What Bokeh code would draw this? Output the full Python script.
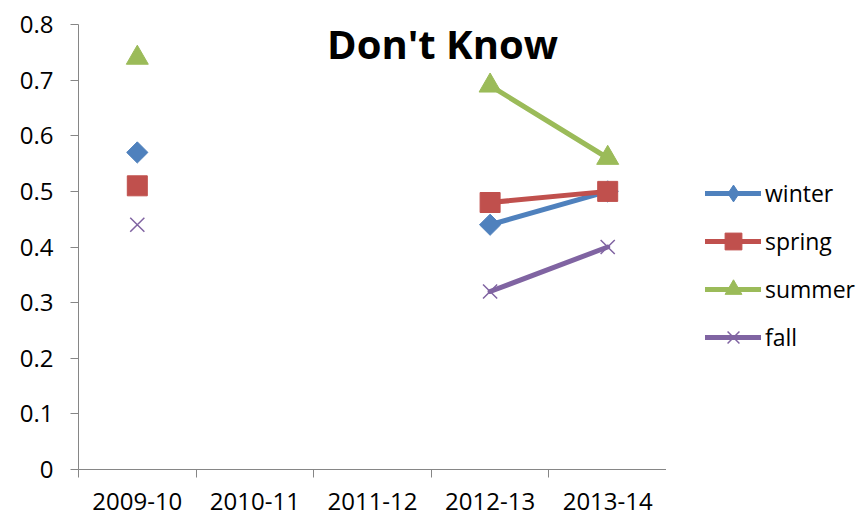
import math
from bokeh.plotting import figure
from bokeh.layouts import row
from bokeh.models import (ColumnDataSource, Range1d, FixedTicker, Legend, LegendItem,
                          Label, NumeralTickFormatter)
from bokeh.embed import file_html
from bokeh.resources import INLINE

categories = ["2009-10", "2010-11", "2011-12", "2012-13", "2013-14"]
nan = float("nan")
winter = [0.57, nan, nan, 0.44, 0.50]
spring = [0.51, nan, nan, 0.48, 0.50]
summer = [0.74, nan, nan, 0.69, 0.56]
fall = [0.44, nan, nan, 0.32, 0.40]
y_ticks = [0, 0.1, 0.2, 0.3, 0.4, 0.5, 0.6, 0.7, 0.8]
title_text = "Don't Know"

FONT = "Open Sans"
AXIS_COLOR = "#868686"

xs = [i + 0.5 for i in range(len(categories))]
src = ColumnDataSource(dict(x=xs, winter=winter, spring=spring, summer=summer, fall=fall))

p = figure(width=666, height=524, output_backend="svg", toolbar_location=None,
           x_range=Range1d(0, len(categories)), y_range=Range1d(0, 0.8),
           min_border_left=78, min_border_right=0, min_border_top=24, min_border_bottom=55)
p.background_fill_color = "white"
p.border_fill_color = "white"
p.outline_line_color = None
p.xgrid.visible = False
p.ygrid.visible = False

# x axis
p.xaxis.ticker = FixedTicker(ticks=xs, minor_ticks=list(range(len(categories) + 1)))
p.xaxis.major_label_overrides = {x: c for x, c in zip(xs, categories)}
p.xaxis.major_tick_line_color = None
p.xaxis.major_tick_out = 0
p.xaxis.major_tick_in = 0
p.xaxis.minor_tick_line_color = AXIS_COLOR
p.xaxis.minor_tick_out = 8
p.xaxis.minor_tick_in = 0
p.xaxis.axis_line_color = AXIS_COLOR
p.xaxis.major_label_standoff = 15
p.xaxis.major_label_text_font = FONT
p.xaxis.major_label_text_font_size = "24px"
p.xaxis.major_label_text_color = "black"

# y axis
p.yaxis.ticker = FixedTicker(ticks=y_ticks)
p.yaxis.formatter = NumeralTickFormatter(format="0.[0]")
p.yaxis.major_tick_line_color = AXIS_COLOR
p.yaxis.major_tick_out = 8
p.yaxis.major_tick_in = 0
p.yaxis.minor_tick_line_color = None
p.yaxis.axis_line_color = AXIS_COLOR
p.yaxis.major_label_standoff = 17
p.yaxis.major_label_text_font = FONT
p.yaxis.major_label_text_font_size = "24px"
p.yaxis.major_label_text_color = "black"

series = [
    ("winter", "#4F81BD", dict(marker="square", size=15, angle=math.pi / 4), "diamond"),
    ("spring", "#C0504D", dict(marker="square", size=20), "square"),
    ("summer", "#9BBB59", dict(marker="triangle", size=22), "triangle"),
    ("fall", "#8064A2", dict(marker="x", size=20), "x"),
]

# legend panel (separate figure to the right of the plot area)
lf = figure(width=201, height=524, output_backend="svg", toolbar_location=None,
            x_range=Range1d(0, 1), y_range=Range1d(0, 1),
            min_border=0, min_border_left=0, min_border_right=0,
            min_border_top=0, min_border_bottom=0)
lf.axis.visible = False
lf.grid.visible = False
lf.outline_line_color = None
lf.background_fill_color = "white"
lf.border_fill_color = "white"
# placeholder source: nothing visible is drawn in the legend panel's frame
empty = ColumnDataSource(dict(x=[nan], y=[nan]))

items = []
for name, color, mk, lmk in series:
    p.line("x", name, source=src, line_color=color, line_width=5, line_cap="round")
    if mk["marker"] == "x":
        p.scatter("x", name, source=src, marker="x", size=mk["size"],
                  line_color=color, line_width=1.5)
    else:
        p.scatter("x", name, source=src, marker=mk["marker"], size=mk["size"],
                  angle=mk.get("angle", 0), fill_color=color, line_color=color)
    ll = lf.line("x", "y", source=empty, line_color=color, line_width=5, line_cap="round")
    if lmk == "x":
        ls = lf.scatter("x", "y", source=empty, marker="x", line_color=color, line_width=1.5)
    else:
        ls = lf.scatter("x", "y", source=empty, marker=lmk, fill_color=color, line_color=color)
    items.append(LegendItem(label=name, renderers=[ll, ls]))

legend = Legend(items=items, location=(39, 111), orientation="vertical",
                glyph_width=56, glyph_height=42, label_height=42, spacing=6,
                padding=0, margin=0, label_standoff=4,
                label_text_font=FONT, label_text_font_size="23px",
                label_text_color="black", border_line_color=None,
                background_fill_alpha=0)
lf.add_layout(legend, "center")

title = Label(x=364, y=426, x_units="screen", y_units="screen", text=title_text,
              text_align="center", text_baseline="alphabetic",
              text_font=FONT, text_font_size="40px", text_font_style="bold",
              text_color="black")
p.add_layout(title)

layout = row(p, lf, spacing=0)
open("out.html", "w").write(file_html(layout, INLINE))
